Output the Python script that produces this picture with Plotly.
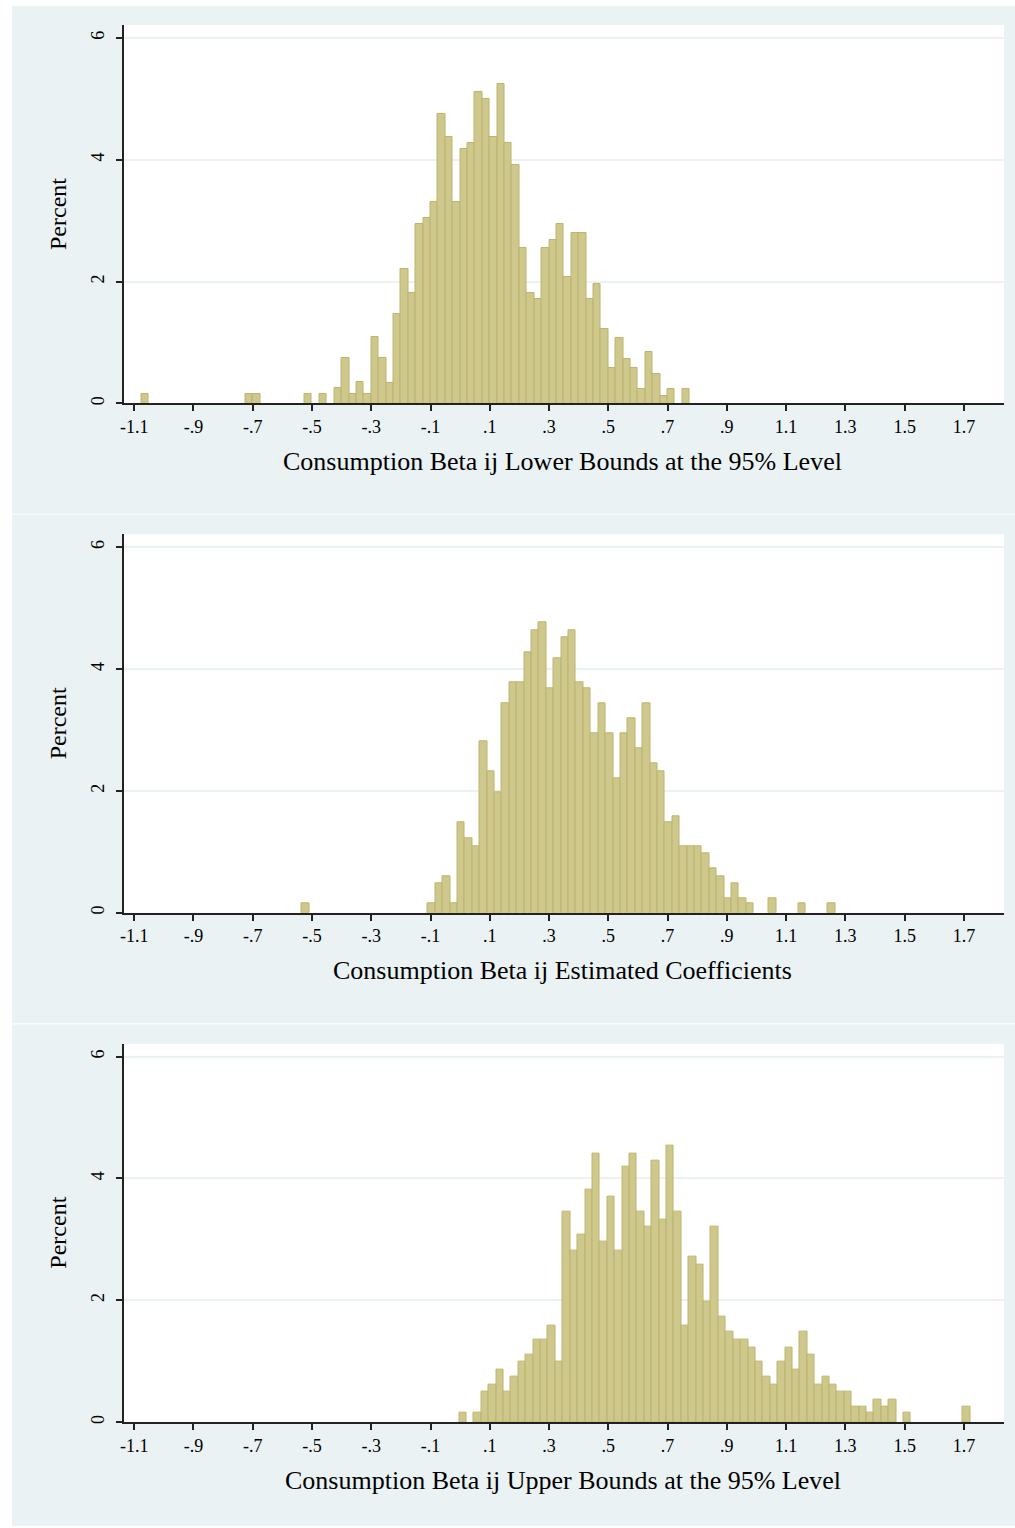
import plotly.graph_objects as go

# ---------------- data (percent per bin, bin width 0.025) ----------------
BIN_WIDTH = 0.025

lower_start = -1.075
lower_pct = [0.15] + [0]*13 + [0.15, 0.15] + [0]*6 + [
    0.15, 0, 0.15, 0, 0.26, 0.74, 0.15, 0.36, 0.15, 1.09, 0.74,
    0.34, 1.47, 2.21, 1.82, 2.95, 3.05, 3.30, 4.76, 4.38, 3.30,
    4.17, 4.27, 5.11, 5.00, 4.38, 5.25, 4.27, 3.92, 2.56, 1.82,
    1.71, 2.56, 2.69, 2.95, 2.07, 2.80, 2.80, 1.71, 1.96, 1.22,
    0.59, 1.08, 0.73, 0.59, 0.235, 0.84, 0.49, 0.13, 0.235, 0, 0.235]

est_start = -0.534
est_pct = [0.15] + [0]*16 + [
    0.15, 0.49, 0.60, 0.15, 1.48, 1.23, 1.09, 2.81, 2.32, 1.97,
    3.44, 3.78, 3.78, 4.28, 4.63, 4.77, 3.68, 4.17, 4.52, 4.63,
    3.78, 3.68, 2.95, 3.44, 2.95, 2.21, 2.95, 3.19, 2.70, 3.44,
    2.46, 2.32, 1.48, 1.58, 1.09, 1.09, 1.09, 0.98, 0.73, 0.60,
    0.24, 0.49, 0.24, 0.15, 0, 0, 0.24, 0, 0, 0, 0.15, 0, 0, 0, 0.15]

upper_start = -0.0035
upper_pct = [
    0.15, 0, 0.15, 0.50, 0.61, 0.86, 0.50, 0.75, 0.99, 1.11,
    1.35, 1.35, 1.59, 0.99, 3.45, 2.82, 3.07, 3.81, 4.40, 2.96,
    3.70, 2.82, 4.19, 4.40, 3.45, 3.21, 4.29, 3.32, 4.54, 3.45,
    1.59, 2.71, 2.58, 1.97, 3.21, 1.73, 1.49, 1.35, 1.35, 1.23,
    0.99, 0.75, 0.61, 0.99, 1.23, 0.86, 1.48, 1.11, 0.61, 0.75,
    0.61, 0.50, 0.50, 0.26, 0.26, 0.15, 0.37, 0.26, 0.37, 0,
    0.15] + [0]*7 + [0.26]

x_tickvals = [-1.1, -0.9, -0.7, -0.5, -0.3, -0.1, 0.1, 0.3, 0.5, 0.7, 0.9, 1.1, 1.3, 1.5, 1.7]
x_ticktext = ["-1.1", "-.9", "-.7", "-.5", "-.3", "-.1", ".1", ".3", ".5", ".7", ".9", "1.1", "1.3", "1.5", "1.7"]
y_tickvals = [0, 2, 4, 6]
y_ticktext = ["0", "2", "4", "6"]

titles = ["Consumption Beta ij Lower Bounds at the 95% Level",
          "Consumption Beta ij Estimated Coefficients",
          "Consumption Beta ij Upper Bounds at the 95% Level"]
y_title = "Percent"

panels = [(lower_start, lower_pct), (est_start, est_pct), (upper_start, upper_pct)]

# ---------------- layout geometry (pixels) ----------------
W, H = 1015, 1528
FONT = "Liberation Serif"
BG = "#EAF2F3"
BAR_FILL = "rgb(207,200,140)"
BAR_LINE = "rgb(188,180,110)"
AXIS = "#222222"

plot_left, plot_right = 120, 1004
panel_bg = [(6, 514.5), (515.5, 1024.5), (1025.8, 1528)]
plot_tb = [(25, 404), (535, 914), (1045, 1424)]
px_per_unit_x = 297.5
x0_px = 130.7  # pixel of x = -1.1
x_range = [-1.1 - (x0_px - plot_left) / px_per_unit_x,
           -1.1 + (plot_right - x0_px) / px_per_unit_x]
px_per_pct = 61.0


def px(xp):
    return xp / W


def py(yp):
    return 1 - yp / H


fig = go.Figure()
shapes = []
annotations = []

for k, ((start, pct), (top, bot), (bgt, bgb)) in enumerate(zip(panels, plot_tb, panel_bg)):
    n = k + 1
    xa = "x" if n == 1 else f"x{n}"
    ya = "y" if n == 1 else f"y{n}"
    centers = [start + (i + 0.5) * BIN_WIDTH for i in range(len(pct))]
    line_w = [1 if v > 0 else 0 for v in pct]
    fig.add_trace(go.Bar(
        x=centers, y=pct, width=BIN_WIDTH,
        marker=dict(color=BAR_FILL, line=dict(color=BAR_LINE, width=line_w)),
        xaxis=xa, yaxis=ya, showlegend=False, hoverinfo="x+y"))

    y_top_val = (bot - top) / px_per_pct
    axcommon = dict(showline=True, linecolor=AXIS, linewidth=2,
                    ticks="outside", ticklen=6, tickwidth=2, tickcolor=AXIS,
                    zeroline=False, tickfont=dict(family=FONT, size=18, color="black"))
    fig.layout[f"xaxis{'' if n == 1 else n}"] = dict(
        domain=[px(plot_left), px(plot_right)], anchor=ya, range=x_range,
        tickvals=x_tickvals, ticktext=x_ticktext, showgrid=False, **axcommon)
    fig.layout[f"yaxis{'' if n == 1 else n}"] = dict(
        domain=[py(bot), py(top)], anchor=xa, range=[0, y_top_val],
        tickvals=y_tickvals, ticktext=y_ticktext, tickangle=-90,
        ticklabelstandoff=4,
        showgrid=True, gridcolor=BG, gridwidth=1.5, **axcommon)

    # panel background and white plot region
    shapes.append(dict(type="rect", xref="paper", yref="paper", layer="below",
                       x0=px(8), x1=1, y0=py(bgb), y1=py(bgt),
                       fillcolor=BG, line=dict(width=0)))
    shapes.append(dict(type="rect", xref="paper", yref="paper", layer="below",
                       x0=px(plot_left), x1=px(plot_right), y0=py(bot), y1=py(top),
                       fillcolor="white", line=dict(width=0)))

    annotations.append(dict(text=titles[k], xref="paper", yref="paper",
                            x=px(561), y=py(bot + 58), xanchor="center", yanchor="middle",
                            showarrow=False, font=dict(family=FONT, size=26, color="black")))
    annotations.append(dict(text=y_title, xref="paper", yref="paper", textangle=-90,
                            x=px(54), y=py((top + bot) / 2), xanchor="center", yanchor="middle",
                            showarrow=False, font=dict(family=FONT, size=24, color="black")))

fig.update_layout(
    width=W, height=H, margin=dict(l=0, r=0, t=0, b=0),
    paper_bgcolor="white", plot_bgcolor="rgba(0,0,0,0)",
    bargap=0, shapes=shapes, annotations=annotations, showlegend=False)

fig.write_html("out.html", config={"displayModeBar": False},
               post_script="document.body.style.margin='0';")
